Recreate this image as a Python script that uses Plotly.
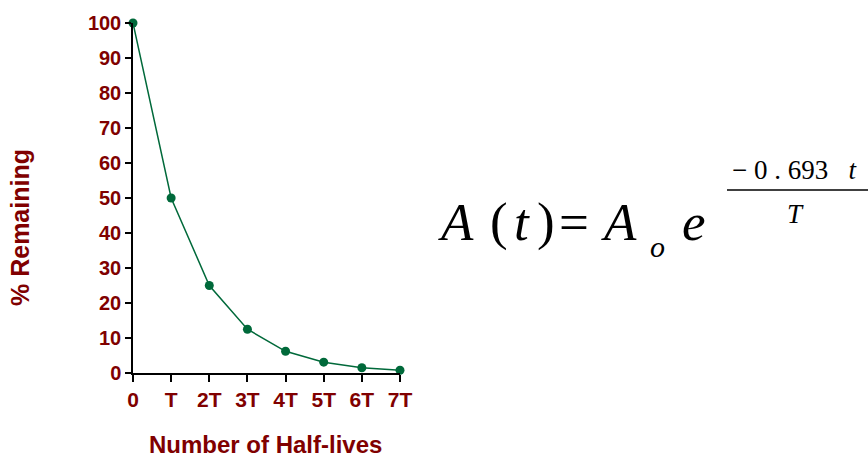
import plotly.graph_objects as go

# data
half_lives = [0, 1, 2, 3, 4, 5, 6, 7]
tick_labels = ["0", "T", "2T", "3T", "4T", "5T", "6T", "7T"]
pct_remaining = [100, 50, 25, 12.5, 6.2, 3.1, 1.5, 0.8]
y_ticks = [0, 10, 20, 30, 40, 50, 60, 70, 80, 90, 100]

W, H = 868, 459
L, R, T, B = 133, 400, 23, 373  # plot area in pixels

red = "#800000"
green = "#00693A"
sans = "Liberation Sans, Arial, sans-serif"
serif = "Liberation Serif, Times New Roman, serif"


def px(x):
    return (x - L) / (R - L)


def py(y):
    return (B - y) / (B - T)


fig = go.Figure()
fig.add_trace(go.Scatter(
    x=half_lives, y=pct_remaining, mode="lines+markers",
    line=dict(color=green, width=1.5),
    marker=dict(color=green, size=9),
    cliponaxis=False, showlegend=False,
))

fig.update_layout(
    width=W, height=H,
    margin=dict(l=L, r=W - R, t=T, b=H - B),
    paper_bgcolor="white", plot_bgcolor="white",
    font=dict(family=sans, color=red),
)
fig.update_xaxes(
    range=[0, 7], tickvals=half_lives, ticktext=["<b>%s</b>" % t for t in tick_labels],
    showgrid=False, zeroline=False, showline=True, linecolor="black", linewidth=1.5,
    ticks="outside", ticklen=7, tickwidth=1.5, tickcolor="black",
    tickfont=dict(size=21, color=red, family=sans),
)
fig.update_yaxes(
    range=[0, 100], tickvals=y_ticks, ticktext=["<b>%d</b>" % v for v in y_ticks],
    showgrid=False, zeroline=False, showline=True, linecolor="black", linewidth=1.5,
    ticks="outside", ticklen=6, tickwidth=1.5, tickcolor="black",
    tickfont=dict(size=20, color=red, family=sans),
)

anns = [
    dict(x=px(265), y=py(444), text="<b>Number of Half-lives</b>",
         font=dict(size=24, color=red)),
    dict(x=px(20), y=py(228), text="<b>% Remaining</b>", textangle=-90,
         font=dict(size=25, color=red)),
]

big = 53
pieces = [
    (456, "<i>A</i>", big),
    (499, "(", big),
    (522, "<i>t</i>", big),
    (546, ")", big),
    (574, "=", big),
    (619, "<i>A</i>", big),
    (657, "<i>o</i>", 30),
    (694, "<i>e</i>", big),
]
for x, txt, sz in pieces:
    yy = 222 if sz == big else 246
    anns.append(dict(x=px(x), y=py(yy), text=txt, font=dict(size=sz, color="black", family=serif)))

anns.append(dict(x=px(794), y=py(170), text="\u2212 0 . 693   <i>t</i>",
                 font=dict(size=27, color="black", family=serif)))
anns.append(dict(x=px(795), y=py(214), text="<i>T</i>",
                 font=dict(size=27, color="black", family=serif)))

for a in anns:
    a.update(xref="paper", yref="paper", showarrow=False, xanchor="center", yanchor="middle")
fig.update_layout(annotations=anns)

fig.add_shape(type="line", xref="paper", yref="paper",
              x0=px(727), x1=px(868), y0=py(190), y1=py(190),
              line=dict(color="black", width=1.5))

fig.write_html("out.html", config={"displayModeBar": False},
               post_script="document.body.style.margin='0';")
